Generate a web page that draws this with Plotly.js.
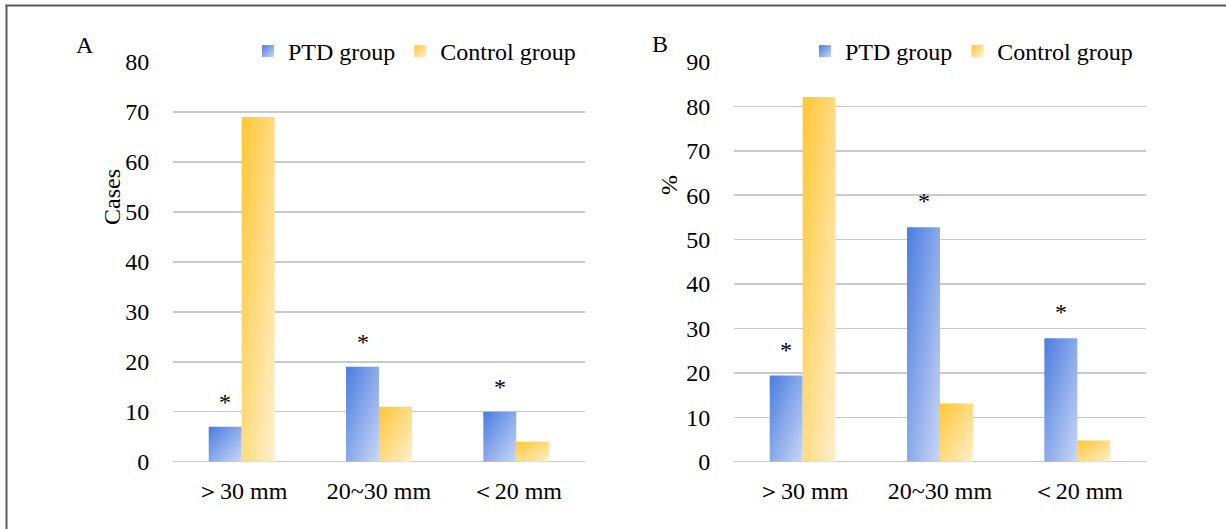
<!DOCTYPE html>
<html>
<head>
<meta charset="utf-8">
<script src="https://cdn.plot.ly/plotly-3.0.1.min.js"></script>
<style>
html,body{margin:0;padding:0;background:#fff;}
#chart{width:1226px;height:529px;}
</style>
</head>
<body>
<div id="chart"></div>
<script>
// ---- data ----
const categories = ['＞30 mm', '20~30 mm', '＜20 mm'];
const seriesNames = ['PTD group', 'Control group'];
const casesPTD = [7, 19, 10];
const casesControl = [69, 11, 4];
const pctPTD = [19.4, 52.8, 27.8];
const pctControl = [82.1, 13.1, 4.8];
const casesTicks = [0, 10, 20, 30, 40, 50, 60, 70, 80];
const pctTicks = [0, 10, 20, 30, 40, 50, 60, 70, 80, 90];
const markText = '*';

// ---- styles ----
const FONT = '"Times New Roman", "Liberation Serif", "DejaVu Serif", serif';
const BLUE_FALLBACK = '#7f9fe8';
const GOLD_FALLBACK = '#ffd978';
const W = 1226, H = 529;

const data = [
  {type:'bar', name:seriesNames[0], x:categories, y:casesPTD, xaxis:'x', yaxis:'y',
   marker:{color:BLUE_FALLBACK, line:{width:0}}, legend:'legend', hoverinfo:'none'},
  {type:'bar', name:seriesNames[1], x:categories, y:casesControl, xaxis:'x', yaxis:'y',
   marker:{color:GOLD_FALLBACK, line:{width:0}}, legend:'legend', hoverinfo:'none'},
  {type:'bar', name:seriesNames[0], x:categories, y:pctPTD, xaxis:'x2', yaxis:'y2',
   marker:{color:BLUE_FALLBACK, line:{width:0}}, legend:'legend2', hoverinfo:'none'},
  {type:'bar', name:seriesNames[1], x:categories, y:pctControl, xaxis:'x2', yaxis:'y2',
   marker:{color:GOLD_FALLBACK, line:{width:0}}, legend:'legend2', hoverinfo:'none'}
];

const yDomain = [(H-461.7)/H, 1-62/H];
const txtFont = {family:FONT, size:24, color:'#000'};
const xAxisBase = {type:'category', showgrid:false, zeroline:false, showline:false,
  ticks:'outside', ticklen:7, tickcolor:'rgba(0,0,0,0)',
  tickfont:txtFont, fixedrange:true};
const yAxisBase = {showgrid:true, gridcolor:'#cacaca', gridwidth:1.5,
  zeroline:true, zerolinecolor:'#cacaca', zerolinewidth:1.5, showline:false,
  ticks:'outside', ticklen:18, tickcolor:'rgba(0,0,0,0)',
  tickfont:txtFont, fixedrange:true, domain:yDomain};

const annotations = [];
function px(x){return x/W;}
function py(y){return 1-y/H;}
annotations.push({xref:'paper', yref:'paper', x:px(85), y:py(45), text:'A', showarrow:false,
  xanchor:'center', yanchor:'middle', font:txtFont});
annotations.push({xref:'paper', yref:'paper', x:px(660), y:py(44), text:'B', showarrow:false,
  xanchor:'center', yanchor:'middle', font:txtFont});
annotations.push({xref:'paper', yref:'paper', x:px(112), y:py(197), text:'Cases', showarrow:false,
  textangle:-90, xanchor:'center', yanchor:'middle', font:txtFont});
annotations.push({xref:'paper', yref:'paper', x:px(669), y:py(185), text:'%', showarrow:false,
  textangle:-90, xanchor:'center', yanchor:'middle', font:txtFont});
// significance marks above PTD bars
casesPTD.forEach((v,i)=>annotations.push({xref:'x', yref:'y', x:i-0.12, y:v, text:markText,
  showarrow:false, xanchor:'center', yanchor:'middle', yshift:25, font:txtFont}));
pctPTD.forEach((v,i)=>annotations.push({xref:'x2', yref:'y2', x:i-0.12, y:v, text:markText,
  showarrow:false, xanchor:'center', yanchor:'middle', yshift:26, font:txtFont}));

const legendBase = {orientation:'h', xanchor:'left', yanchor:'top', bgcolor:'rgba(0,0,0,0)',
  borderwidth:0, itemclick:false, itemdoubleclick:false,
  font:txtFont, traceorder:'normal'};

const layout = {
  width:W, height:H, margin:{l:0, r:0, t:0, b:0, pad:0},
  paper_bgcolor:'#fff', plot_bgcolor:'#fff',
  font:txtFont,
  barmode:'group', bargap:0.52, bargroupgap:0,
  xaxis:Object.assign({}, xAxisBase, {domain:[173/W, 585/W], anchor:'y'}),
  yaxis:Object.assign({}, yAxisBase, {range:[0,80], tickvals:casesTicks, anchor:'x'}),
  xaxis2:Object.assign({}, xAxisBase, {domain:[734/W, 1146/W], anchor:'y2'}),
  yaxis2:Object.assign({}, yAxisBase, {range:[0,90], tickvals:pctTicks, anchor:'x2'}),
  legend:Object.assign({}, legendBase, {x:px(248), y:py(29)}),
  legend2:Object.assign({}, legendBase, {x:px(805), y:py(29)}),
  annotations:annotations,
  shapes:[
    {type:'line', xref:'paper', yref:'paper', x0:px(6.5), x1:px(6.5), y0:0, y1:py(5), line:{color:'#5a5a5a', width:2}},
    {type:'line', xref:'paper', yref:'paper', x0:px(5.5), x1:1, y0:py(5.5), y1:py(5.5), line:{color:'#5a5a5a', width:2}}
  ],
  showlegend:true
};

const gd = document.getElementById('chart');
Plotly.newPlot(gd, data, layout, {staticPlot:true, displayModeBar:false}).then(applyGradients);

function applyGradients(){
  const NS = 'http://www.w3.org/2000/svg';
  const svg = gd.querySelector('svg.main-svg');
  let defs = svg.querySelector('defs');
  if(!defs){defs = document.createElementNS(NS,'defs'); svg.insertBefore(defs, svg.firstChild);}
  function mk(id, c1, c2){
    const g = document.createElementNS(NS,'linearGradient');
    g.setAttribute('id', id);
    g.setAttribute('x1','0'); g.setAttribute('y1','0');
    g.setAttribute('x2','1'); g.setAttribute('y2','1');
    [[0,c1],[1,c2]].forEach(([o,c])=>{
      const s = document.createElementNS(NS,'stop');
      s.setAttribute('offset', o); s.setAttribute('stop-color', c);
      g.appendChild(s);
    });
    defs.appendChild(g);
  }
  mk('gradBlue', '#4a7ce0', '#cad7f4');
  mk('gradGold', '#ffc733', '#fff0cf');
  const blueRGB = 'rgb(127, 159, 232)';
  const goldRGB = 'rgb(255, 217, 120)';
  gd.querySelectorAll('.barlayer path, .legendpoints path').forEach(p=>{
    const f = p.style.fill;
    if(f === blueRGB) p.style.fill = 'url(#gradBlue)';
    else if(f === goldRGB) p.style.fill = 'url(#gradGold)';
  });
}
</script>
</body>
</html>
